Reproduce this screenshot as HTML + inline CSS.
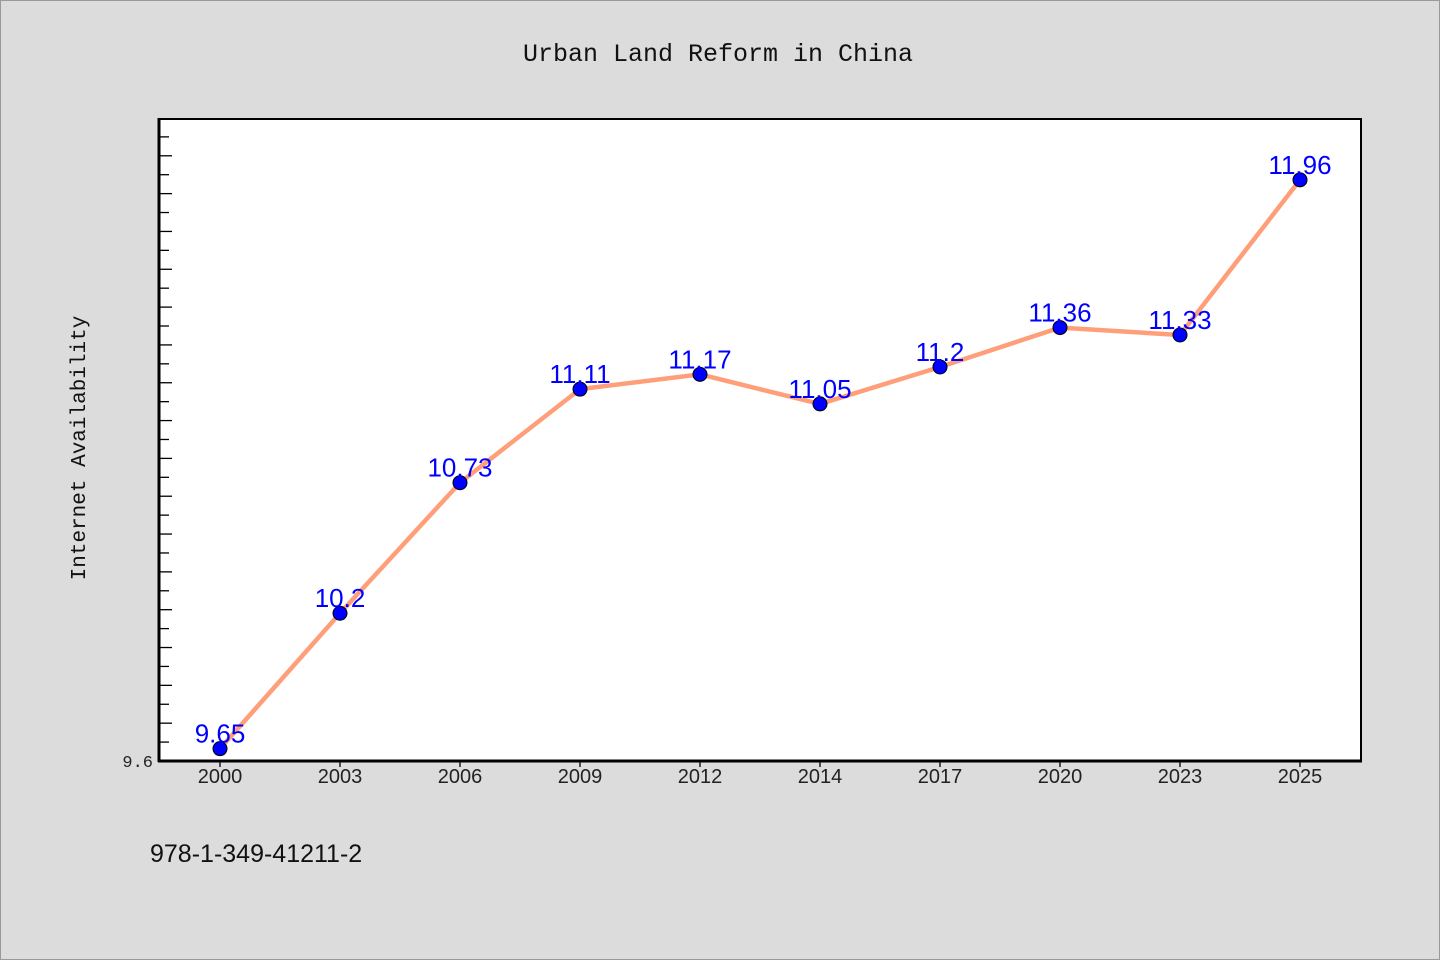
<!DOCTYPE html>
<html><head><meta charset="utf-8"><style>
html,body{margin:0;padding:0;width:1440px;height:960px;overflow:hidden;background:#dcdcdc;}
svg{display:block}
text{font-family:"Liberation Sans","WenQuanYi Zen Hei",sans-serif;}
</style></head><body>
<svg id="chart" width="1440" height="960" xmlns="http://www.w3.org/2000/svg">
<rect x="0.5" y="0.5" width="1439" height="959" fill="#dcdcdc" stroke="#999"/>
<text x="718" y="61" text-anchor="middle" font-size="25" fill="#111" style="font-family:'Liberation Mono',monospace">Urban Land Reform in China</text>
<text transform="translate(85,448) rotate(-90)" text-anchor="middle" font-size="21" fill="#111" style="font-family:'Liberation Mono',monospace">Internet Availability</text>
<rect x="159" y="119" width="1202" height="642" fill="#fff" stroke="#000" stroke-width="2"/>
<g id="ticks"></g>
<g id="series"></g>
<line x1="159" y1="118" x2="159" y2="762" stroke="#000" stroke-width="3"/>
<line x1="158" y1="761" x2="1362" y2="761" stroke="#000" stroke-width="3"/>
<text x="153" y="767" text-anchor="end" font-size="17" fill="#222" style="font-family:'Liberation Mono',monospace">9.6</text>
<text x="150" y="862" font-size="25" fill="#111">978-1-349-41211-2</text>
</svg>
<script>
const categories = ["2000","2003","2006","2009","2012","2014","2017","2020","2023","2025"];
const values = [9.65,10.2,10.73,11.11,11.17,11.05,11.2,11.36,11.33,11.96];
const yMin = 9.6, yMax = 12.207;
const NS="http://www.w3.org/2000/svg";
const px0=159, px1=1361, py0=761, py1=119;
function xScale(i){return 220 + i*120;}
function yScale(v){return py0 - (v-yMin)/(yMax-yMin)*(py0-py1);}
function mk(tag,attrs,parent){const e=document.createElementNS(NS,tag);for(const k in attrs)e.setAttribute(k,attrs[k]);parent.appendChild(e);return e;}
const ticks=document.getElementById('ticks'), series=document.getElementById('series');
// y ticks
const step=0.0768;
for(let k=1;;k++){const v=yMin+k*step;const y=yScale(v);if(y<130)break;
 const t=mk('line',{x1:160,x2:160+(k%2===0?12:9),y1:y,y2:y,stroke:'#000','stroke-width':1.3},ticks);
 
 
}
categories.forEach((c,i)=>{
 const x=xScale(i);
 const t=mk('line',{x1:x,x2:x,y1:761,y2:767,stroke:'#000','stroke-width':1.3},ticks);
 
 
 const l=mk('text',{x:x,y:783,'text-anchor':'middle','font-size':20,fill:'#222'},ticks);
 l.textContent=c;
 
 
});
const pts=values.map((v,i)=>xScale(i)+','+yScale(v)).join(' ');
const line=mk('polyline',{points:pts,fill:'none',stroke:'#ff9f7a','stroke-width':4.5,'stroke-linejoin':'round'},series);


values.forEach((v,i)=>{
 const x=xScale(i),y=yScale(v);
 const d=mk('circle',{cx:x,cy:y,r:7,fill:'#0000ff',stroke:'#000','stroke-width':1},series);
 
 
 const l=mk('text',{x:x,y:y-6,'text-anchor':'middle','font-size':26,fill:'#0000ff'},series);
 l.textContent=String(v);
 
 
});
</script>
</body></html>
